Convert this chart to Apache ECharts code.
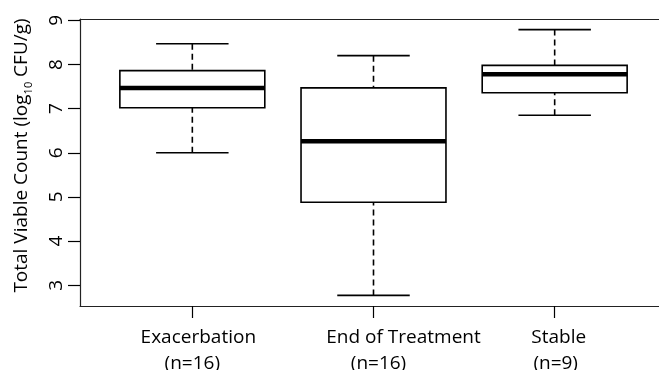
<!DOCTYPE html>
<html>
<head>
<meta charset="utf-8">
<script src="https://cdn.jsdelivr.net/npm/echarts@6/dist/echarts.min.js"></script>
<style>
  html, body { margin: 0; padding: 0; background: #fff; }
  #chart { width: 659px; height: 370px; }
</style>
</head>
<body>
<div id="chart"></div>
<script>
// Groups and their sample sizes
const categories = ['Exacerbation', 'End of Treatment', 'Stable'];
const sampleSizes = [16, 16, 9];

// Five-number summaries, log10 CFU/g
const whiskerLow  = [6.00, 2.77, 6.85];
const quartile1   = [7.02, 4.88, 7.36];
const medians     = [7.47, 6.26, 7.78];
const quartile3   = [7.86, 7.47, 7.98];
const whiskerHigh = [8.47, 8.20, 8.79];

const yTicks = [3, 4, 5, 6, 7, 8, 9];
const xPositions = [1, 2, 3];

const FONT = '"Open Sans", "DejaVu Sans", sans-serif';

// left padding (px) nudging each label line sideways
const nameNudge = [12, 60, 8];
const countNudge = [0, 10, 2];

const boxData = categories.map((c, i) => [
  xPositions[i], whiskerLow[i], quartile1[i], medians[i], quartile3[i], whiskerHigh[i]
]);

const BOX_HALF = 0.4;    // half box width, x units
const CAP_HALF = 0.2;    // half whisker-cap width, x units

function renderBox(params, api) {
  const x = api.value(0);
  const lo = api.value(1), q1 = api.value(2), md = api.value(3), q3 = api.value(4), hi = api.value(5);
  const pL = api.coord([x - BOX_HALF, q3]);
  const pR = api.coord([x + BOX_HALF, q1]);
  const cL = api.coord([x - CAP_HALF, lo])[0];
  const cR = api.coord([x + CAP_HALF, lo])[0];
  const cx = api.coord([x, lo])[0];
  const yLo = api.coord([x, lo])[1];
  const yQ1 = api.coord([x, q1])[1];
  const yMd = api.coord([x, md])[1];
  const yQ3 = api.coord([x, q3])[1];
  const yHi = api.coord([x, hi])[1];
  const stroke = { stroke: '#000', lineWidth: 1.6, fill: null };
  const dashed = { stroke: '#000', lineWidth: 1.6, lineDash: [6, 4], fill: null };
  return {
    type: 'group',
    children: [
      { type: 'line', shape: { x1: cx, y1: yHi, x2: cx, y2: yQ3 }, style: dashed },
      { type: 'line', shape: { x1: cx, y1: yLo, x2: cx, y2: yQ1 }, style: dashed },
      { type: 'line', shape: { x1: cL, y1: yHi, x2: cR, y2: yHi }, style: stroke },
      { type: 'line', shape: { x1: cL, y1: yLo, x2: cR, y2: yLo }, style: stroke },
      { type: 'rect', shape: { x: pL[0], y: pL[1], width: pR[0] - pL[0], height: pR[1] - pL[1] },
        style: { stroke: '#000', lineWidth: 1.6, fill: '#fff' } },
      { type: 'line', shape: { x1: pL[0], y1: yMd, x2: pR[0], y2: yMd },
        style: { stroke: '#000', lineWidth: 4.5 } }
    ]
  };
}

const labelRich = {};
categories.forEach((c, i) => {
  labelRich['a' + i] = { fontFamily: FONT, fontSize: 19, color: '#000', lineHeight: 26, padding: [0, 0, 0, nameNudge[i]] };
  labelRich['b' + i] = { fontFamily: FONT, fontSize: 19, color: '#000', lineHeight: 26, padding: [0, 0, 0, countNudge[i]] };
});

const frameLine = { show: true, lineStyle: { color: '#222', width: 1.2 } };

const chart = echarts.init(document.getElementById('chart'), null, { renderer: 'canvas' });
chart.setOption({
  animation: false,
  backgroundColor: '#fff',
  grid: {
    left: 80, top: 19, bottom: 64, right: -8,
    outerBoundsMode: 'none',
    containLabel: false,
    show: false
  },
  xAxis: [{
    type: 'value',
    min: 0.38, max: 3.62,
    axisLine: frameLine,
    splitLine: { show: false },
    axisTick: { show: true, customValues: xPositions, length: 12, lineStyle: { color: '#000', width: 1.2 } },
    axisLabel: {
      customValues: xPositions,
      margin: 19,
      color: '#000',
      fontFamily: FONT,
      fontSize: 19,
      lineHeight: 26,
      rich: labelRich,
      formatter: function (v) {
        const i = xPositions.indexOf(Math.round(v));
        return i < 0 ? '' : '{a' + i + '|' + categories[i] + '}\n{b' + i + '|(n=' + sampleSizes[i] + ')}';
      }
    }
  }, {
    // top edge of the plot frame
    type: 'value',
    position: 'top',
    min: 0.38, max: 3.62,
    axisLine: frameLine,
    axisTick: { show: false },
    axisLabel: { show: false },
    splitLine: { show: false }
  }],
  yAxis: {
    type: 'value',
    min: 2.53, max: 9.03,
    axisLine: frameLine,
    splitLine: { show: false },
    axisTick: { show: true, customValues: yTicks, length: 12, lineStyle: { color: '#000', width: 1.2 } },
    axisLabel: {
      customValues: yTicks,
      rotate: 90,
      margin: 14,
      color: '#000',
      fontFamily: FONT,
      fontSize: 19
    },
    name: '{m|Total Viable Count (log}{s|10}{m| CFU/g)}',
    nameLocation: 'middle',
    nameRotate: 90,
    nameGap: 46,
    nameTextStyle: {
      fontFamily: FONT,
      color: '#000',
      padding: [0, 0, 0, 14],
      rich: {
        m: { fontFamily: FONT, fontSize: 19, color: '#000', lineHeight: 24 },
        s: { fontFamily: FONT, fontSize: 11, color: '#000', lineHeight: 24, verticalAlign: 'bottom', padding: [8, 0, 0, 0] }
      }
    }
  },
  series: [{
    type: 'custom',
    renderItem: renderBox,
    encode: { x: 0, y: [1, 2, 3, 4, 5] },
    data: boxData,
    clip: false
  }]
});
</script>
</body>
</html>
